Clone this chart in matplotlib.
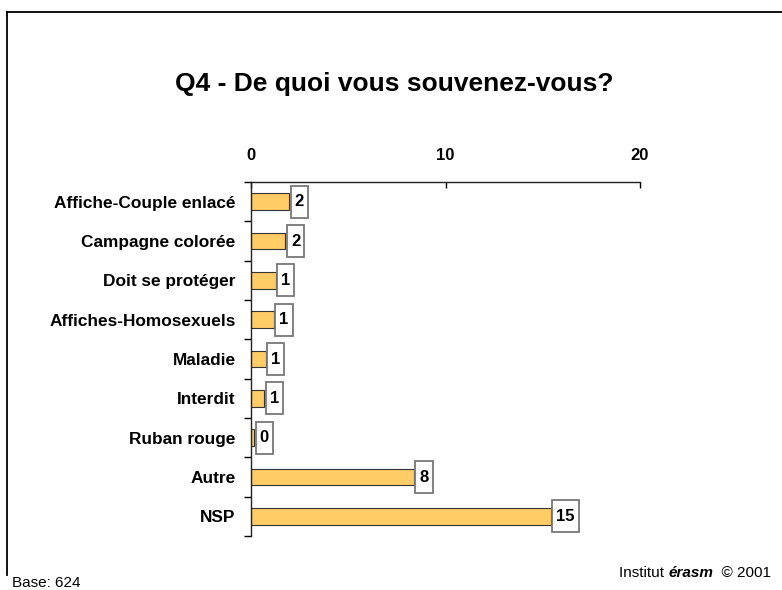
import matplotlib
matplotlib.use("Agg")
import matplotlib.pyplot as plt
from matplotlib.lines import Line2D
from matplotlib.patches import Rectangle

plt.rcParams['font.family'] = ['Liberation Sans', 'DejaVu Sans']

categories = ['Affiche-Couple enlacé', 'Campagne colorée', 'Doit se protéger',
              'Affiches-Homosexuels', 'Maladie', 'Interdit', 'Ruban rouge',
              'Autre', 'NSP']
values = [1.96, 1.77, 1.27, 1.18, 0.75, 0.67, 0.17, 8.38, 15.41]
x_ticks = [0, 10, 20]

W, H = 782, 590
fig = plt.figure(figsize=(W / 100, H / 100), dpi=100)

# axes placed by pixel position of the reference
ax = fig.add_axes([251 / W, 1 - 536 / H, 389 / W, 354 / H])

ypos = list(range(len(categories)))
ax.barh(ypos, values, height=0.42, color='#FFCC66', edgecolor='#333333', linewidth=0.8)

ax.set_xlim(0, 20)
ax.set_ylim(len(categories) - 0.5, -0.5)

ax.xaxis.tick_top()
ax.set_xticks(x_ticks)
ax.set_xticklabels([str(t) for t in x_ticks], fontsize=12, fontweight='bold')
ax.tick_params(axis='x', direction='in', length=4, width=1, pad=14)

ax.set_yticks(ypos)
ax.set_yticklabels(categories, fontsize=12.4, fontweight='bold')
ax.tick_params(axis='y', which='major', length=0, pad=11)
ax.set_yticks([y - 0.5 for y in range(len(categories) + 1)], minor=True)
ax.tick_params(axis='y', which='minor', direction='out', length=5, width=1)

for s in ['right', 'bottom']:
    ax.spines[s].set_visible(False)
for s in ['left', 'top']:
    ax.spines[s].set_linewidth(1)
    ax.spines[s].set_color('#222222')

# value labels with boxes
labels = []
for y, v in zip(ypos, values):
    t = ax.annotate(str(int(round(v))), xy=(v, y), xytext=(5.5, 0),
                    textcoords='offset pixels', ha='left', va='center',
                    fontsize=12, fontweight='bold', zorder=6, annotation_clip=False)
    labels.append((t, v, y))

fig.text(394 / W, 1 - 91 / H, 'Q4 - De quoi vous souvenez-vous?',
         ha='center', va='baseline', fontsize=19, fontweight='bold')

fig.text(12 / W, 1 - 587 / H, 'Base: 624', ha='left', va='baseline', fontsize=11)

t1 = fig.text(619 / W, 1 - 577 / H, 'Institut ', ha='left', va='baseline', fontsize=11)
t2 = fig.text(0, 0, 'érasm', fontsize=11, fontweight='bold', style='italic')
t3 = fig.text(0, 0, '  © 2001', fontsize=11)

fig.canvas.draw()
r = fig.canvas.get_renderer()
inv = fig.transFigure.inverted()
base_y = t1.get_transform().transform(t1.get_position())[1]

bb = t1.get_window_extent(r)
t2.set_position(inv.transform((bb.x1, base_y)))
t2.set_va('baseline')
fig.canvas.draw()
bb2 = t2.get_window_extent(r)
t3.set_position(inv.transform((bb2.x1, base_y)))
t3.set_va('baseline')

ax_inv = ax.transAxes.inverted()
for t, v, y in labels:
    bb = t.get_window_extent(r)
    cx, cy = ax.transData.transform((v, y))
    x0, y0 = ax_inv.transform((bb.x0 - 4, cy - 16))
    x1, y1 = ax_inv.transform((bb.x1 + 4, cy + 16))
    ax.add_patch(Rectangle((x0, y0), x1 - x0, y1 - y0, transform=ax.transAxes,
                           facecolor='white', edgecolor='#777777', linewidth=1.3,
                           zorder=5, clip_on=False))

# outer frame (top and left edges)
fx, fy = 7 / W, 1 - 12 / H
fig.add_artist(Line2D([fx, 1], [fy, fy], transform=fig.transFigure, color='black', linewidth=1.3))
fig.add_artist(Line2D([fx, fx], [1 - 575 / H, fy], transform=fig.transFigure, color='black', linewidth=1.3))

fig.savefig('out.png', dpi=100)
